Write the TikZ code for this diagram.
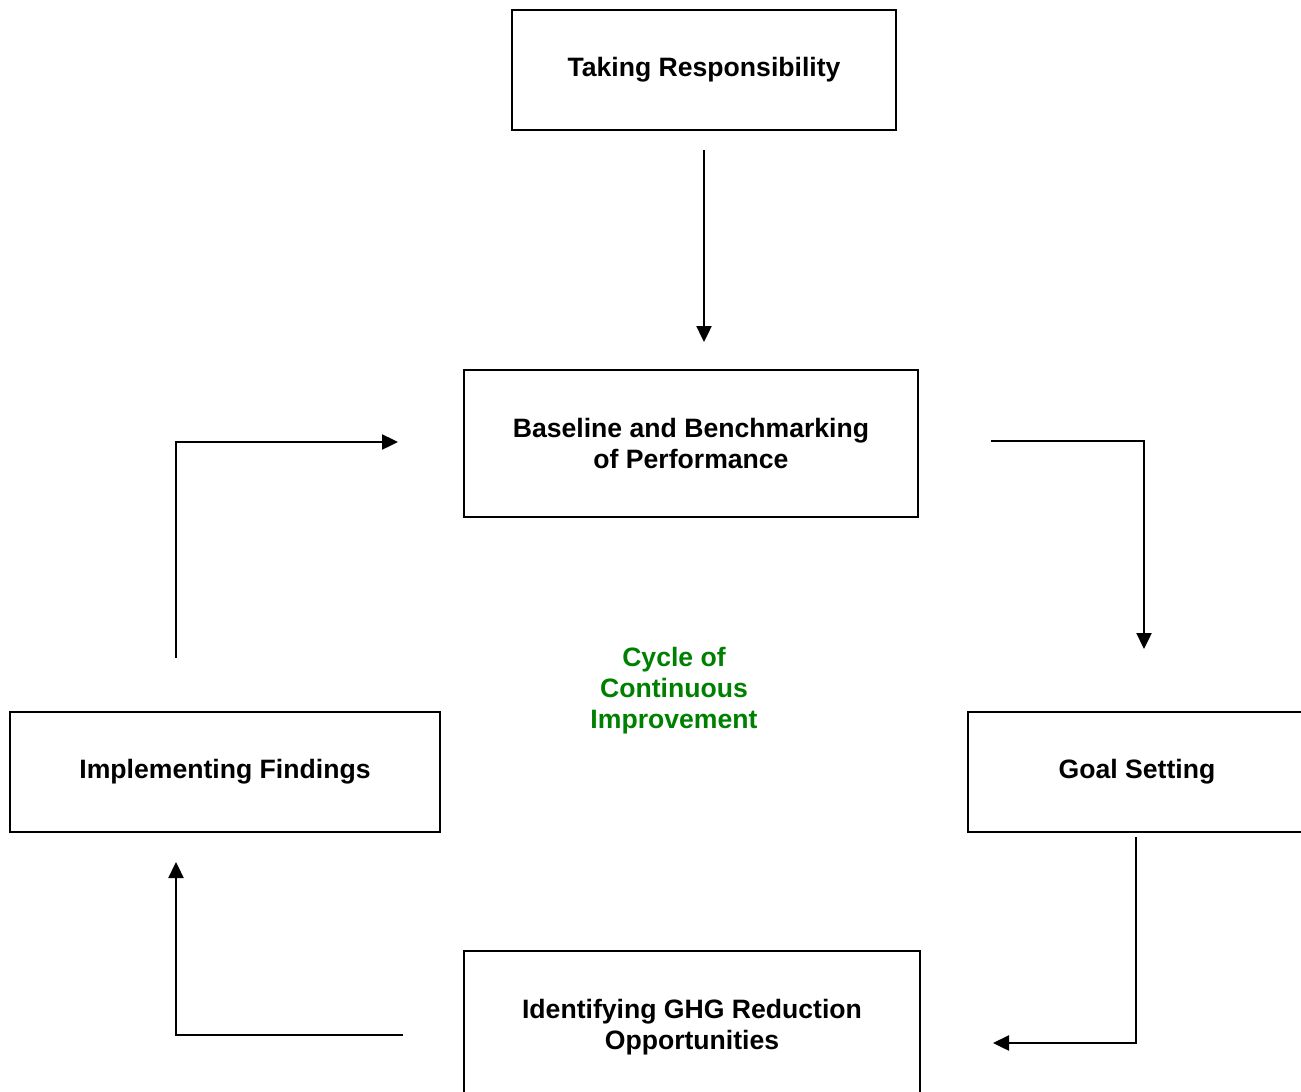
\documentclass[tikz,border=0pt]{standalone}
\usepackage{fontspec}
\setmainfont{Liberation Sans}
\usetikzlibrary{arrows.meta}
\definecolor{cyclegreen}{RGB}{0,128,0}
\begin{document}
\begin{tikzpicture}[x=0.5pt,y=-0.5pt,
  boxtext/.style={align=center,inner sep=0pt,font=\fontsize{13.3}{15.5}\selectfont\bfseries},
  stagebox/.style={draw,line width=0.9pt,rectangle,inner sep=0pt,boxtext},
  flow/.style={line width=1.2pt,-{Triangle[length=8pt,width=7.5pt]}}]
\useasboundingbox (0,0) rectangle (1301,1092);
\clip (0,0) rectangle (1301,1092);
\node[stagebox,minimum width=192pt,minimum height=60pt] (resp) at (704,70) {Taking Responsibility};
\node[stagebox,minimum width=227pt,minimum height=73.5pt] (base) at (691,443.5) {Baseline and Benchmarking\\of Performance};
\node[stagebox,minimum width=169pt,minimum height=60pt] (goal) at (1137,772) {Goal Setting};
\node[stagebox,minimum width=228pt,minimum height=72pt] (ghg) at (692,1023) {};
\node[boxtext] (ghgtext) at (692,1027) {Identifying GHG Reduction\\Opportunities};
\node[stagebox,minimum width=215pt,minimum height=60pt] (impl) at (225,772) {Implementing Findings};
\node[boxtext,text=cyclegreen] (cycle) at (674,691) {Cycle of\\Continuous\\Improvement};
\coordinate (a1s) at (704,150);
\coordinate (a1e) at (704,342);
\coordinate (a2s) at (991,441);
\coordinate (a2e) at (1144,649);
\coordinate (a3s) at (1136,837);
\coordinate (a3e) at (993,1043);
\coordinate (a4s) at (403,1035);
\coordinate (a4e) at (176,862);
\coordinate (a5s) at (176,658);
\coordinate (a5e) at (398,442);
\draw[flow] (a1s) -- (a1e);
\draw[flow] (a2s) -| (a2e);
\draw[flow] (a3s) |- (a3e);
\draw[flow] (a4s) -| (a4e);
\draw[flow] (a5s) |- (a5e);
\end{tikzpicture}
\end{document}
